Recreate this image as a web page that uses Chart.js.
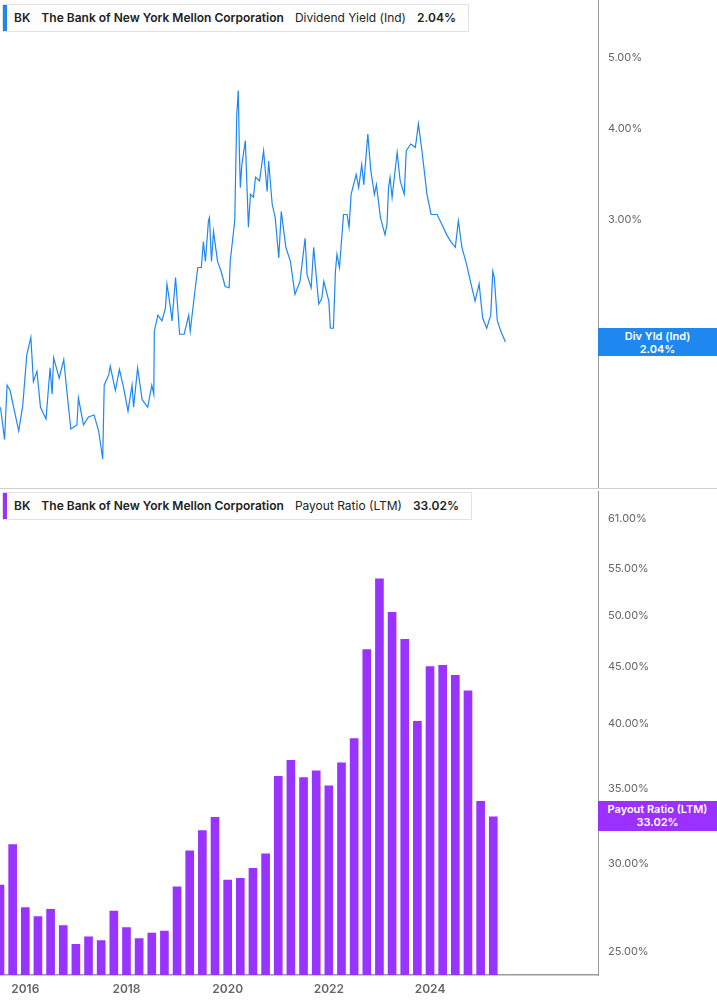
<!DOCTYPE html>
<html>
<head>
<meta charset="utf-8">
<script src="https://cdn.jsdelivr.net/npm/chart.js@4"></script>
<style>
  body { margin: 0; background: #fff; font-family: Inter, "Noto Sans", sans-serif; }
  #wrap { position: relative; width: 717px; height: 1005px; overflow: hidden; }
  .pane { position: absolute; left: 0; width: 717px; }
  #topPane { top: -12px; height: 513px; }
  #botPane { top: 479px; height: 526px; }
  #divider { position: absolute; left: 0; top: 488px; width: 717px; height: 1px; background: #d0d0d0; }
  .legend { position: absolute; left: 2px; height: 26px; border: 1px solid #e2e2e2; background: #fff;
            font-size: 12px; color: #222; line-height: 26px; white-space: nowrap; padding-right: 12px; }
  .legend .bar { position: absolute; left: 0; top: 0; width: 4px; height: 26px; }
  .legend span { margin-left: 11px; }
  .legend b { font-weight: 600; }
  .tag { position: absolute; left: 598px; width: 119px; color: #fff; font-size: 11px; font-weight: 600;
         text-align: center; line-height: 13px; padding-top: 2px; }
</style>
</head>
<body>
<div id="wrap">
  <div class="pane" id="topPane"><canvas id="yieldChart"></canvas></div>
  <div id="divider"></div>
  <div class="pane" id="botPane"><canvas id="payoutChart"></canvas></div>
  <div class="legend" style="top:4px"><div class="bar" style="background:#1e88f0"></div>
    <span style="margin-left:11px"><b>BK</b></span><span><b>The Bank of New York Mellon Corporation</b></span><span>Dividend Yield (Ind)</span><span><b>2.04%</b></span></div>
  <div class="legend" style="top:492px"><div class="bar" style="background:#9b30ff"></div>
    <span style="margin-left:11px"><b>BK</b></span><span><b>The Bank of New York Mellon Corporation</b></span><span>Payout Ratio (LTM)</span><span><b>33.02%</b></span></div>
  <div class="tag" style="top:328px;height:26px;background:#1e88f0">Div Yld (Ind)<br>2.04%</div>
  <div class="tag" style="top:801px;height:28px;background:#9b30ff">Payout Ratio (LTM)<br>33.02%</div>
</div>
<script>
// Dividend yield (%)
const yieldYears = [2015.51,2015.59,2015.64,2015.70,2015.77,2015.87,2015.95,2016.03,2016.11,2016.16,2016.23,2016.30,2016.41,2016.49,2016.53,2016.56,2016.67,2016.76,2016.82,2016.90,2017.02,2017.05,2017.15,2017.25,2017.36,2017.45,2017.53,2017.56,2017.65,2017.68,2017.78,2017.86,2017.94,2018.03,2018.11,2018.14,2018.22,2018.31,2018.42,2018.50,2018.54,2018.55,2018.62,2018.70,2018.77,2018.80,2018.87,2018.90,2018.97,2019.05,2019.14,2019.23,2019.26,2019.36,2019.41,2019.48,2019.52,2019.56,2019.62,2019.64,2019.68,2019.72,2019.80,2019.87,2019.95,2020.03,2020.05,2020.14,2020.18,2020.21,2020.23,2020.25,2020.28,2020.35,2020.41,2020.45,2020.51,2020.55,2020.63,2020.71,2020.78,2020.81,2020.88,2020.94,2021.01,2021.06,2021.15,2021.24,2021.33,2021.43,2021.53,2021.57,2021.65,2021.70,2021.80,2021.86,2021.90,2022.00,2022.03,2022.09,2022.13,2022.16,2022.21,2022.29,2022.36,2022.40,2022.44,2022.54,2022.59,2022.65,2022.69,2022.77,2022.83,2022.90,2022.94,2023.02,2023.11,2023.15,2023.18,2023.21,2023.25,2023.35,2023.41,2023.49,2023.53,2023.62,2023.71,2023.77,2023.84,2023.94,2024.02,2024.14,2024.23,2024.33,2024.41,2024.50,2024.56,2024.63,2024.72,2024.81,2024.89,2024.97,2025.04,2025.12,2025.20,2025.24,2025.27,2025.33,2025.40,2025.49];
const yieldValues = [1.66,1.50,1.78,1.75,1.66,1.54,1.67,1.96,2.07,1.80,1.86,1.66,1.60,1.88,1.73,1.94,1.82,1.93,1.75,1.55,1.57,1.71,1.57,1.61,1.62,1.54,1.41,1.78,1.84,1.89,1.75,1.87,1.77,1.64,1.78,1.66,1.88,1.70,1.66,1.78,1.73,2.11,2.22,2.18,2.27,2.45,2.27,2.18,2.50,2.09,2.09,2.22,2.11,2.42,2.58,2.58,2.80,2.63,2.99,3.02,2.63,2.89,2.63,2.55,2.43,2.42,2.63,2.99,4.18,4.51,3.77,3.32,3.57,3.85,2.93,3.25,3.22,3.43,3.39,3.73,3.28,3.61,3.15,3.02,2.66,3.08,2.75,2.63,2.37,2.47,2.83,2.52,2.42,2.75,2.30,2.34,2.47,2.32,2.13,2.13,2.55,2.69,2.58,3.05,3.05,2.93,3.25,3.46,3.32,3.57,3.35,3.93,3.50,3.25,3.35,3.02,2.86,2.96,3.32,3.43,3.22,3.71,3.39,3.25,3.73,3.81,3.77,4.06,3.73,3.25,3.05,3.05,2.96,2.86,2.80,2.75,2.99,2.75,2.61,2.45,2.32,2.45,2.20,2.13,2.22,2.55,2.50,2.18,2.11,2.04];
const yieldTicks = [2, 3, 4, 5];

// Payout ratio (LTM, %) by quarter end
const payoutQuarters = [2015.5,2015.75,2016.0,2016.25,2016.5,2016.75,2017.0,2017.25,2017.5,2017.75,2018.0,2018.25,2018.5,2018.75,2019.0,2019.25,2019.5,2019.75,2020.0,2020.25,2020.5,2020.75,2021.0,2021.25,2021.5,2021.75,2022.0,2022.25,2022.5,2022.75,2023.0,2023.25,2023.5,2023.75,2024.0,2024.25,2024.5,2024.75,2025.0,2025.25];
const payoutValues = [28.7,31.2,27.4,26.9,27.3,26.4,25.4,25.8,25.6,27.2,26.3,25.7,26.0,26.1,28.6,30.8,32.1,33.0,29.0,29.1,29.7,30.6,35.9,37.1,35.8,36.3,35.2,36.9,38.8,46.6,53.9,50.3,47.6,40.2,45.0,45.1,44.2,42.8,34.1,33.02];
const payoutTicks = [25, 30, 35, 40, 45, 50, 55, 61];
const yearTicks = [2016, 2018, 2020, 2022, 2024];

const xMin = 2015.5, xMax = 2027.32;
const tickFont = { family: 'Inter', size: 11 };

function rightAxis(min, max, ticks) {
    return {
        type: 'logarithmic', position: 'right', min: min, max: max,
        grid: { display: false, drawTicks: true, tickLength: 4, color: '#999' },
        border: { display: true, color: '#999' },
        afterBuildTicks: axis => { axis.ticks = ticks.map(v => ({ value: v })); },
        afterFit: axis => { axis.width = 119; },
        ticks: { color: '#666', font: tickFont, padding: 6, callback: v => v.toFixed(2) + '%' }
    };
}

new Chart(document.getElementById('yieldChart'), {
    type: 'line',
    data: {
        datasets: [{
            data: yieldYears.map((x, i) => ({ x: x, y: yieldValues[i] })),
            borderColor: '#1e88f0', borderWidth: 1.2, pointRadius: 0, tension: 0
        }]
    },
    options: {
        responsive: true, maintainAspectRatio: false, animation: false,
        layout: { padding: 0 },
        plugins: { legend: { display: false }, tooltip: { enabled: false } },
        scales: {
            x: { type: 'linear', min: xMin, max: xMax, display: false, offset: false },
            y: rightAxis(1.285, 5.99, yieldTicks)
        }
    }
});

new Chart(document.getElementById('payoutChart'), {
    type: 'bar',
    data: {
        datasets: [{
            data: payoutQuarters.map((x, i) => ({ x: x, y: payoutValues[i] })),
            backgroundColor: '#9933ff', barThickness: 8
        }]
    },
    options: {
        responsive: true, maintainAspectRatio: false, animation: false,
        layout: { padding: 0 },
        plugins: { legend: { display: false }, tooltip: { enabled: false } },
        scales: {
            x: {
                type: 'linear', min: xMin, max: xMax, offset: false,
                grid: { display: false, drawTicks: true, tickLength: 5, color: '#999', offset: false },
                border: { display: true, color: '#999', width: 1.5 },
                afterBuildTicks: axis => { axis.ticks = yearTicks.map(v => ({ value: v })); },
                afterFit: axis => { axis.height = 30; },
                ticks: { color: '#666', font: { family: 'Inter', size: 12, weight: '600' }, padding: 2, callback: v => String(v) }
            },
            y: rightAxis(23.85, 64.5, payoutTicks)
        }
    }
});
</script>
</body>
</html>
